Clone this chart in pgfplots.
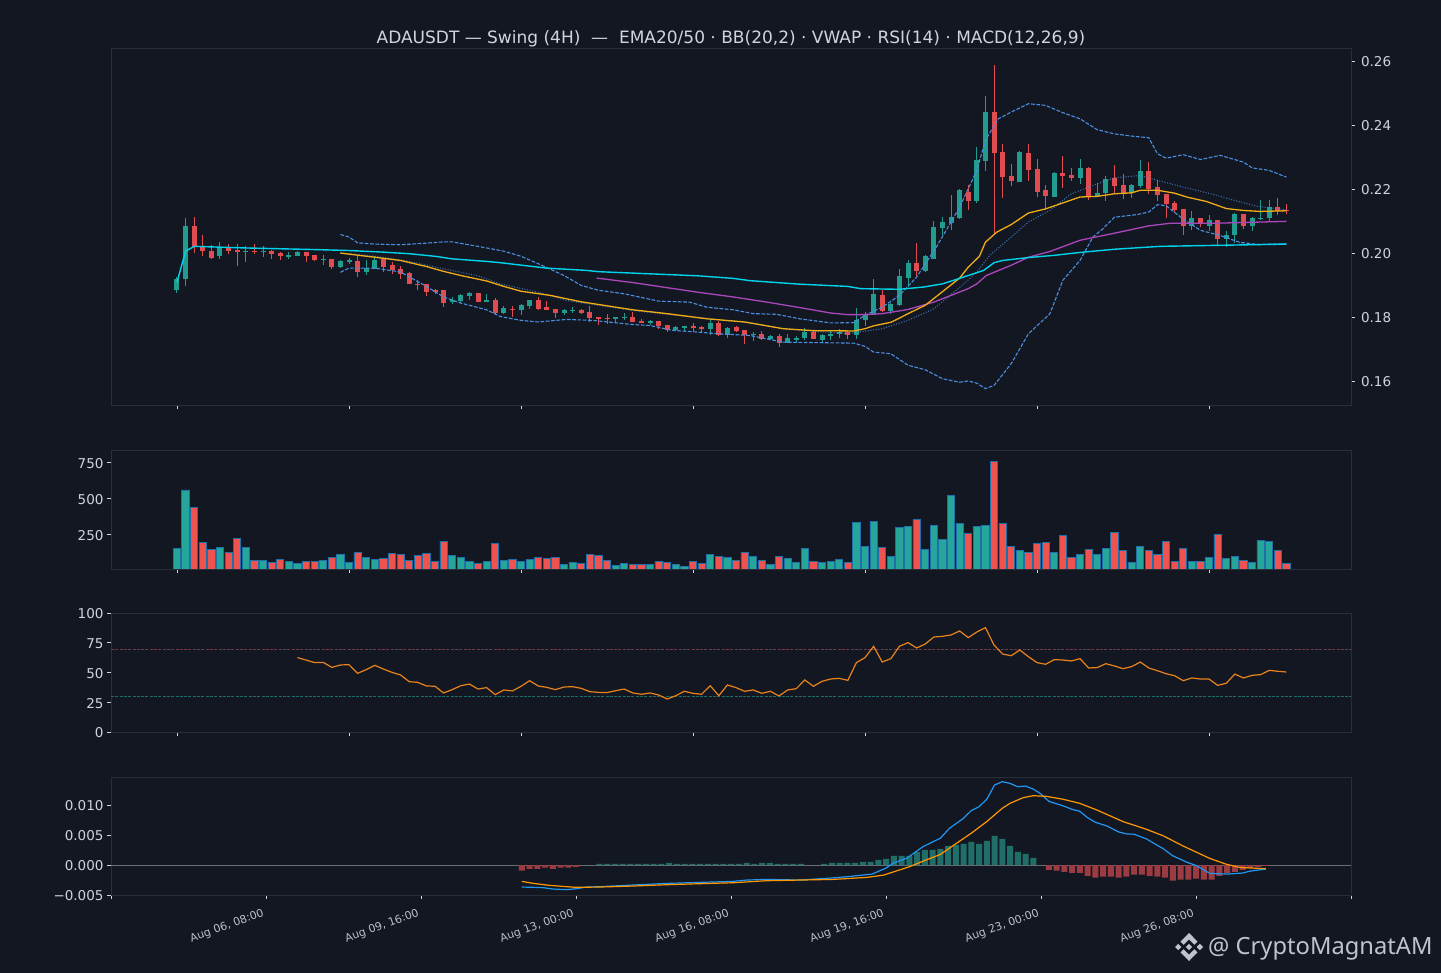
\documentclass[border=0pt]{standalone}
\usepackage{fontspec}
\setmainfont{DejaVu Sans}
\newfontfamily\wm{Noto Sans}
\usepackage{pgfplots}
\usepackage{pgfplotstable}
\pgfplotsset{compat=1.18}
\definecolor{bg}{HTML}{131722}
\definecolor{frame}{HTML}{2A2E39}
\definecolor{txt}{HTML}{D1D4DC}
\definecolor{upc}{HTML}{229C8E}
\definecolor{dnc}{HTML}{E04C4F}
\definecolor{upv}{HTML}{26A69A}
\definecolor{dnv}{HTML}{EF5350}
\definecolor{edg}{HTML}{1F6FA8}
\definecolor{cyanl}{HTML}{00D4EC}
\definecolor{emaf}{HTML}{F0AC14}
\definecolor{emas}{HTML}{AB47BC}
\definecolor{bb}{HTML}{4A90E2}
\definecolor{rsil}{HTML}{E8831C}
\definecolor{macdl}{HTML}{2196F3}
\definecolor{sigl}{HTML}{FF9800}
\definecolor{hup}{HTML}{1F6F68}
\definecolor{hdn}{HTML}{9C3B42}
\definecolor{ob}{HTML}{6E3C48}
\definecolor{os}{HTML}{1B6E68}
\pgfplotstableread{
i o h l c
0 .1885 .1926 .1876 .1921
1 .1919 .2111 .1898 .2087
5 .1991 .2036 .1982 .2017
8 .2003 .2024 .1973 .2009
10 .2003 .2022 .1989 .2007
13 .1988 .2004 .1982 .1994
14 .1991 .2007 .1991 .2003
17 .1979 .1996 .1965 .1984
19 .1959 .1980 .1954 .1975
20 .1972 .1986 .1968 .1978
22 .1941 .1978 .1932 .1955
23 .1952 .1992 .1952 .1978
32 .1849 .1865 .1842 .1856
33 .1852 .1874 .1845 .1869
34 .1866 .1881 .1855 .1875
36 .1847 .1874 .1847 .1856
38 .1813 .1837 .1810 .1829
40 .1822 .1841 .1809 .1838
41 .1835 .1856 .1826 .1856
45 .1813 .1825 .1807 .1822
46 .1819 .1832 .1814 .1822
51 .1794 .1800 .1782 .1800
52 .1797 .1815 .1792 .1803
55 .1782 .1791 .1778 .1788
58 .1760 .1772 .1760 .1769
59 .1766 .1775 .1757 .1775
62 .1763 .1791 .1745 .1782
64 .1745 .1770 .1736 .1768
67 .1744 .1754 .1726 .1750
69 .1732 .1744 .1729 .1741
71 .1720 .1747 .1720 .1735
72 .1729 .1741 .1722 .1735
73 .1735 .1768 .1729 .1754
75 .1729 .1747 .1720 .1744
76 .1741 .1757 .1729 .1750
77 .1747 .1763 .1736 .1754
79 .1744 .1830 .1734 .1793
80 .1791 .1817 .1774 .1807
81 .1809 .1921 .1809 .1872
83 .1819 .1845 .1812 .1841
84 .1838 .1952 .1835 .1928
85 .1924 .1980 .1895 .1969
87 .1944 .1994 .1942 .1991
88 .1984 .2101 .1984 .2081
89 .2078 .2113 .2058 .2097
90 .2094 .2181 .2073 .2115
91 .2112 .2202 .2107 .2197
93 .2165 .2333 .2157 .2290
94 .2287 .2490 .2258 .2440
98 .2222 .2321 .2222 .2315
102 .2175 .2253 .2175 .2250
105 .2234 .2295 .2217 .2268
107 .2178 .2219 .2178 .2190
108 .2187 .2243 .2163 .2231
111 .2190 .2217 .2172 .2212
112 .2209 .2290 .2203 .2256
118 .2087 .2131 .2072 .2112
120 .2087 .2119 .2069 .2103
122 .2044 .2069 .2019 .2056
123 .2056 .2125 .2034 .2122
125 .2087 .2115 .2069 .2109
126 .2106 .2167 .2103 .2112
127 .2109 .2167 .2097 .2144
}\upT
\pgfplotstableread{
i o h l c
2 .2087 .2115 .2001 .2020
3 .2020 .2056 .1992 .2006
4 .2009 .2027 .1985 .1986
6 .2017 .2030 .1998 .2009
7 .2012 .2030 .1960 .2003
9 .2007 .2030 .1997 .2004
11 .2007 .2011 .1984 .1997
12 .2000 .2004 .1979 .1992
15 .2003 .2004 .1973 .1991
16 .1994 .1994 .1975 .1978
18 .1984 .1984 .1951 .1959
21 .1975 .1994 .1926 .1941
24 .1981 .1986 .1942 .1959
25 .1963 .1972 .1937 .1947
26 .1950 .1962 .1921 .1936
27 .1938 .1942 .1903 .1903
28 .1906 .1916 .1885 .1900
29 .1903 .1905 .1867 .1881
30 .1887 .1890 .1872 .1881
31 .1885 .1885 .1833 .1844
35 .1875 .1877 .1847 .1847
37 .1856 .1862 .1810 .1813
39 .1828 .1835 .1801 .1822
42 .1856 .1864 .1825 .1828
43 .1832 .1853 .1822 .1822
44 .1825 .1825 .1798 .1813
47 .1822 .1825 .1811 .1813
48 .1816 .1835 .1786 .1797
49 .1800 .1803 .1776 .1794
50 .1797 .1810 .1780 .1794
53 .1803 .1816 .1785 .1785
54 .1788 .1794 .1782 .1782
56 .1788 .1788 .1764 .1775
57 .1778 .1778 .1755 .1760
60 .1775 .1782 .1754 .1766
61 .1769 .1772 .1754 .1763
63 .1782 .1788 .1741 .1744
65 .1769 .1774 .1755 .1757
66 .1760 .1760 .1716 .1744
68 .1750 .1757 .1732 .1733
70 .1741 .1747 .1708 .1720
74 .1754 .1760 .1732 .1732
78 .1754 .1760 .1734 .1744
82 .1869 .1885 .1817 .1819
86 .1969 .2034 .1929 .1944
92 .2193 .2212 .2134 .2162
95 .2440 .2587 .2061 .2312
96 .2315 .2340 .2173 .2237
97 .2240 .2280 .2210 .2225
99 .2312 .2342 .2226 .2259
100 .2262 .2295 .2176 .2193
101 .2197 .2212 .2137 .2178
103 .2250 .2305 .2204 .2243
104 .2246 .2268 .2226 .2234
106 .2268 .2271 .2166 .2178
109 .2234 .2275 .2188 .2209
110 .2212 .2249 .2170 .2187
113 .2256 .2284 .2184 .2202
114 .2206 .2228 .2165 .2181
115 .2184 .2184 .2110 .2153
116 .2156 .2162 .2125 .2137
117 .2140 .2140 .2056 .2087
119 .2112 .2112 .2082 .2094
121 .2103 .2103 .2025 .2044
124 .2122 .2122 .2075 .2087
128 .2144 .2174 .2119 .2131
129 .2137 .2153 .2122 .2131
}\dnT
\pgfplotsset{
 panel/.style={
  scale only axis,anchor=south west,width=1240pt,
  axis line style={draw=frame,line width=0.8pt},
  axis on top=false,
  tick style={draw=txt,line width=0.7pt},
  major tick length=4pt,
  tick align=outside,
  xtick pos=bottom,
  ticklabel style={text=txt,font=\fontsize{13.5}{15}\selectfont},
  scaled y ticks=false,
  xmin=-7.674,xmax=136.51,
  xtick={0,20,...,120},xticklabels={},
 },
 wick/.style={draw=none,mark=none,forget plot,error bars/.cd,y dir=both,y explicit,error mark=none,error bar style={solid,draw=#1,line width=1pt}},
 bup/.style={draw=none,mark=none,forget plot,error bars/.cd,y dir=minus,y explicit,error mark=none,error bar style={solid,draw=upc,line width=5pt}},
 bdn/.style={draw=none,mark=none,forget plot,error bars/.cd,y dir=plus,y explicit,error mark=none,error bar style={solid,draw=dnc,line width=5pt}},
}
\begin{document}
\begin{tikzpicture}[x=1pt,y=1pt]
\fill[bg] (0,0) rectangle (1441,973);
\path[use as bounding box] (0,0) rectangle (1441,973);
\node[text=txt,font=\fontsize{17}{20}\selectfont,anchor=center] at (731,933.7) {ADAUSDT — Swing (4H)~~—~~EMA20/50 · BB(20,2) · VWAP · RSI(14) · MACD(12,26,9)};
% ---------- price
\begin{axis}[panel,at={(111pt,568pt)},height=357pt,
 ymin=0.1527,ymax=0.2641,ytick pos=right,
 y tick label style={xshift=2.5pt},
 ytick={0.16,0.18,0.20,0.22,0.24,0.26},yticklabels={0.16,0.18,0.20,0.22,0.24,0.26}]
\addplot[wick=upc] table[x=i,y=c,y error plus expr=\thisrow{h}-\thisrow{c},y error minus expr=\thisrow{c}-\thisrow{l}] {\upT};
\addplot[wick=dnc] table[x=i,y=c,y error plus expr=\thisrow{h}-\thisrow{c},y error minus expr=\thisrow{c}-\thisrow{l}] {\dnT};
\addplot[bup] table[x=i,y=c,y error minus expr=\thisrow{c}-\thisrow{o}] {\upT};
\addplot[bdn] table[x=i,y=c,y error plus expr=\thisrow{o}-\thisrow{c}] {\dnT};
% BB upper
\addplot[bb,line width=1.1pt,dash pattern=on 3.7pt off 1.6pt,no markers] coordinates {(19,.2059)(20,.2051)(21,.2033)(23,.2029)(26,.2027)(29,.2032)(31,.2036)(32,.2036)(35,.2022)(38,.2007)(40,.1991)(42,.1968)(45,.1931)(47,.1900)(49,.1885)(52,.1874)(56,.1851)(59.6,.1848)(61.6,.1832)(64.7,.1824)(67,.1812)(69.7,.1810)(72.4,.1796)(76,.1783)(78.7,.1784)(80,.1807)(82,.1832)(84,.1869)(86,.1926)(88.3,.2020)(91,.2144)(93,.2259)(94,.2353)(95.5,.2420)(97,.2441)(99,.2467)(101,.2462)(103,.2439)(105,.2420)(107,.2386)(109,.2373)(111,.2366)(113,.2361)(114,.2311)(115,.2297)(117,.2308)(119,.2293)(121.3,.2306)(124,.2285)(125,.2267)(127,.2259)(129,.2238)};
% BB mid
\addplot[bb,opacity=.75,line width=1.1pt,dash pattern=on 1pt off 1.65pt,no markers] coordinates {(19,.2002)(23,.1991)(27,.1975)(31,.1952)(35,.1930)(37.6,.1905)(42,.1879)(45.3,.1853)(49,.1838)(53,.1822)(57,.1810)(62,.1796)(66.6,.1784)(70.5,.1765)(74,.1757)(78,.1750)(82,.1765)(85,.1791)(88,.1827)(91.5,.1905)(93,.1942)(94.5,.1994)(97,.2051)(99,.2098)(101.5,.2134)(104,.2186)(107,.2217)(109,.2236)(112,.2243)(114,.2228)(116.7,.2209)(120.5,.2184)(123,.2165)(125.6,.2147)(129,.2136)};
% BB lower
\addplot[bb,line width=1.1pt,dash pattern=on 3.7pt off 1.6pt,no markers] coordinates {(19,.1941)(20,.1954)(23,.1954)(26,.1942)(29,.1897)(31,.1864)(33,.1845)(36,.1824)(37.6,.1803)(40,.1791)(42,.1786)(45.3,.1794)(48.3,.1791)(53,.1778)(55,.1775)(57.6,.1760)(60.8,.1754)(63,.1749)(66.6,.1744)(70.5,.1723)(78.7,.1720)(80,.1710)(81,.1692)(83,.1687)(85,.1651)(87,.1637)(89,.1609)(91,.1598)(92,.1602)(93,.1595)(94,.1578)(95,.1588)(97,.1656)(99,.1749)(101.5,.1812)(103,.1916)(105,.1978)(106.5,.2051)(107.7,.2078)(109,.2113)(111.6,.2121)(113,.2129)(114,.2152)(115,.2149)(117,.2107)(119,.2072)(121.3,.2056)(123.5,.2035)(125.6,.2028)(129,.2030)};
% EMA50
\addplot[emas,line width=1.3pt,no markers] coordinates {(48.8,.1923)(53,.1909)(57,.1893)(60.8,.1878)(64.7,.1864)(68.6,.1848)(72.4,.1831)(76,.1814)(78,.1809)(80,.1809)(82,.1812)(85,.1825)(88,.1848)(92,.1890)(93,.1905)(94.1,.1931)(97,.1963)(99,.1988)(101.5,.2006)(105,.2041)(109,.2063)(113,.2086)(115.5,.2094)(120.5,.2094)(129,.2100)};
% EMA20
\addplot[emaf,line width=1.3pt,no markers] coordinates {(19,.2001)(23,.1988)(26,.1978)(29,.1959)(31,.1944)(33,.1931)(36,.1914)(38,.1897)(40,.1882)(43.4,.1869)(47,.1849)(53,.1824)(57,.1812)(61.6,.1796)(66,.1786)(70.5,.1765)(74,.1759)(78.7,.1758)(80,.1765)(81,.1774)(83,.1785)(84,.1798)(85,.1812)(87,.1838)(91,.1923)(92,.1957)(93.3,.1991)(94,.2035)(95.3,.2066)(97,.2090)(99,.2126)(101,.2139)(105,.2176)(107,.2178)(109,.2186)(111,.2189)(112,.2197)(114,.2197)(116,.2188)(117.4,.2176)(119.7,.2162)(122,.2140)(124,.2134)(126,.2131)(129,.2133)};
% VWAP
\addplot[cyanl,line width=1.4pt,no markers] coordinates {(0,.1910)(1,.2007)(2,.2022)(8,.2017)(16,.2012)(20,.2009)(24,.2004)(27,.1999)(30,.1991)(32,.1983)(36,.1975)(37.6,.1971)(43,.1954)(47.6,.1947)(49,.1943)(60.6,.1930)(64.7,.1922)(66.6,.1915)(72.4,.1904)(78,.1897)(79.5,.1890)(84,.1888)(86.8,.1895)(89,.1905)(90.3,.1916)(93.8,.1947)(95,.1971)(96,.1978)(99,.1987)(102,.1994)(105,.2003)(109,.2013)(114.3,.2022)(129,.2029)};
\end{axis}
% ---------- volume
\begin{axis}[panel,at={(111pt,404pt)},height=119pt,ymin=10,ymax=837,ytick pos=left,
 y tick label style={yshift=-1pt},
 ytick={250,500,750},yticklabels={250,500,750}]
\addplot[ybar,bar width=7.3pt,bar shift=0pt,fill=upv,draw=edg,line width=.9pt] coordinates {(0,154)(1,559)(5,160)(8,160)(10,70)(13,63)(14,49)(17,70)(19,112)(20,56)(22,91)(23,77)(32,105)(33,91)(34,63)(36,63)(38,70)(40,63)(41,77)(45,42)(46,56)(51,35)(52,49)(55,42)(58,42)(59,29)(62,112)(64,91)(67,98)(69,42)(71,84)(72,56)(73,154)(75,56)(76,63)(77,77)(79,334)(80,167)(81,341)(83,98)(84,299)(85,306)(87,147)(88,313)(89,216)(90,522)(91,327)(93,306)(94,313)(98,140)(102,126)(105,112)(107,112)(108,154)(111,56)(112,167)(118,63)(120,91)(122,84)(123,98)(125,56)(126,209)(127,202)};
\addplot[ybar,bar width=7.3pt,bar shift=0pt,fill=dnv,draw=edg,line width=.9pt] coordinates {(2,438)(3,195)(4,147)(6,126)(7,223)(9,70)(11,56)(12,77)(15,63)(16,63)(18,91)(21,126)(24,84)(25,119)(26,112)(27,70)(28,105)(29,119)(30,63)(31,202)(35,49)(37,188)(39,77)(42,91)(43,84)(44,91)(47,49)(48,112)(49,105)(50,70)(53,42)(54,42)(56,63)(57,56)(60,63)(61,49)(63,98)(65,70)(66,126)(68,70)(70,98)(74,63)(78,56)(82,160)(86,355)(92,258)(95,758)(96,327)(97,167)(99,126)(100,188)(101,195)(103,244)(104,91)(106,147)(109,265)(110,140)(113,140)(114,112)(115,202)(116,63)(117,154)(119,63)(121,251)(124,70)(128,140)(129,49)};
\end{axis}
% ---------- RSI
\begin{axis}[panel,at={(111pt,241pt)},height=119pt,ymin=0,ymax=100,ytick pos=left,
 y tick label style={yshift=-1pt},
 ytick={0,25,50,75,100},yticklabels={0,25,50,75,100}]
\addplot[ob,line width=.8pt,dash pattern=on 3pt off 1.3pt,no markers] coordinates {(-7.674,69.6)(136.51,69.6)};
\addplot[os,line width=.8pt,dash pattern=on 3pt off 1.3pt,no markers] coordinates {(-7.674,30)(136.51,30)};
\addplot[rsil,line width=1.2pt,no markers] coordinates {(14,62.5)(15,60.5)(16,58.3)(17,58.5)(18,54.3)(19,56.3)(20,56.6)(21,49.3)(22,52.4)(23,56)(24,52.9)(25,50.1)(26,47.9)(27,42.3)(28,41.7)(29,38.7)(30,38.4)(31,32.8)(32,35.6)(33,38.9)(34,40.3)(35,36.1)(36,37.3)(37,31.4)(38,35.3)(39,34.5)(40,38.4)(41,43.1)(42,38.7)(43,37.5)(44,35.6)(45,37.8)(46,38.1)(47,36.7)(48,33.9)(49,33.3)(50,33.1)(51,34.7)(52,36.1)(53,32.8)(54,31.7)(55,32.8)(56,31.1)(57,27.7)(58,30.5)(59,34.2)(60,32.5)(61,31.7)(62,38.9)(63,30.5)(64,39.5)(65,37.3)(66,34.2)(67,35.3)(68,32.5)(69,34.2)(70,30.3)(71,35.3)(72,36.4)(73,43.7)(74,38.4)(75,42.6)(76,44.5)(77,45.1)(78,43.4)(79,58.3)(80,62.5)(81,72)(82,58.8)(83,61.6)(84,72)(85,75.1)(86,70.6)(87,73.9)(88,79.8)(89,80.4)(90,81.5)(91,84.9)(92,79.3)(93,84)(94,87.7)(95,73.1)(96,65.5)(97,64.1)(98,68.9)(99,63.3)(100,58.3)(101,56.9)(102,60.8)(103,60.5)(104,59.7)(105,61.6)(106,53.8)(107,54.1)(108,57.4)(109,55.5)(110,53.2)(111,54.9)(112,58.8)(113,53.8)(114,51.5)(115,49)(116,47.3)(117,43.1)(118,45.4)(119,44.5)(120,44.5)(121,39.2)(122,40.9)(123,48.7)(124,45.4)(125,47.6)(126,48.2)(127,51.8)(128,51)(129,50.4)};
\end{axis}
% ---------- MACD
\begin{axis}[panel,at={(111pt,78pt)},height=118pt,ymin=-0.005,ymax=0.01475,ytick pos=left,
 xmin=0,xmax=160,xtick={0,20,...,160},
 xticklabels={{},{Aug 06, 08:00},{Aug 09, 16:00},{Aug 13, 00:00},{Aug 16, 08:00},{Aug 19, 16:00},{Aug 23, 00:00},{Aug 26, 08:00},{}},
 x tick label style={rotate=20,anchor=north east,xshift=-3.5pt,yshift=-3.5pt,font=\fontsize{11}{13}\selectfont,text=txt!90!black},
 y tick label style={yshift=-.5pt},
 ytick={-0.005,0,0.005,0.01},yticklabels={−0.005,0.000,0.005,0.010}]
\addplot[frame!70!white,line width=.9pt,no markers] coordinates {(0,0)(160,0)};
\addplot[ybar,bar width=6pt,bar shift=0pt,fill=hup,draw=none] coordinates {(63,.00022)(64,.00022)(65,.00022)(66,.00022)(67,.00022)(68,.00022)(69,.00022)(70,.00022)(71,.00022)(72,.00039)(73,.00022)(74,.00022)(75,.00022)(76,.00022)(77,.00022)(78,.00022)(79,.00022)(80,.00022)(81,.00022)(82,.00039)(83,.00022)(84,.00039)(85,.00039)(86,.00022)(87,.00022)(88,.00022)(89,.00022)(92,.00022)(93,.00039)(94,.00039)(95,.00039)(96,.00039)(97,.00056)(98,.00056)(99,.00089)(100,.00106)(101,.00156)(102,.00156)(103,.00156)(104,.00217)(105,.00256)(106,.00256)(107,.00272)(108,.00322)(109,.00339)(110,.00356)(111,.00389)(112,.00356)(113,.00406)(114,.00489)(115,.00439)(116,.00322)(117,.00222)(118,.00189)(119,.00122)};
\addplot[ybar,bar width=6pt,bar shift=0pt,fill=hdn,draw=none] coordinates {(53,-.00094)(54,-.00061)(55,-.00061)(56,-.00044)(57,-.00061)(58,-.00044)(59,-.00044)(60,-.00028)(121,-.00078)(122,-.00094)(123,-.00111)(124,-.00128)(125,-.00128)(126,-.00178)(127,-.00211)(128,-.00194)(129,-.00194)(130,-.00211)(131,-.00194)(132,-.00161)(133,-.00161)(134,-.00178)(135,-.00194)(136,-.00211)(137,-.00261)(138,-.00244)(139,-.00244)(140,-.00228)(141,-.00244)(142,-.00244)(143,-.00178)(144,-.00133)(145,-.00111)(146,-.00078)(147,-.00050)(148,-.00028)(149,-.00011)};
\addplot[macdl,line width=1.2pt,no markers] coordinates {(53,-.00367)(54.5,-.00372)(55.8,-.00378)(57,-.00400)(58.8,-.00411)(60,-.00395)(61.4,-.00367)(63,-.00361)(67.4,-.00333)(71.7,-.00306)(76,-.00289)(80.3,-.00272)(82,-.00250)(84.6,-.00239)(88.9,-.00250)(92.8,-.00217)(95.4,-.00189)(98.2,-.00150)(100,-.00050)(100.9,.00030)(102.7,.00117)(104.8,.00311)(107,.00450)(108.2,.00617)(110,.00784)(111,.00912)(112,.00978)(113,.01101)(114,.01340)(115,.01396)(116,.01368)(117,.01312)(118,.01323)(119,.01273)(120,.01190)(121,.01068)(122.9,.00990)(124,.00934)(125,.00901)(126,.00795)(127,.00717)(128.5,.00656)(130,.00556)(131,.00523)(132,.00517)(133.6,.00439)(135.8,.00272)(137,.00156)(138.8,.00050)(140,-.00006)(141.8,-.00139)(144,-.00150)(146,-.00133)(147,-.00100)(149,-.00067)};
\addplot[sigl,line width=1.2pt,no markers] coordinates {(53,-.00272)(54.5,-.00306)(56.6,-.00339)(58.8,-.00361)(60,-.00372)(63,-.00367)(67.4,-.00350)(71.7,-.00328)(76,-.00311)(80.3,-.00295)(84.6,-.00261)(88.9,-.00250)(93.2,-.00239)(97.5,-.00206)(99.7,-.00167)(100.5,-.00133)(103,-.00028)(104.8,.00067)(107,.00178)(109,.00356)(111,.00534)(113,.00728)(115,.00951)(116,.01034)(117.7,.01129)(119,.01162)(120.7,.01151)(122.9,.01101)(125,.01034)(127.2,.00923)(130.6,.00728)(133.6,.00600)(135.8,.00489)(138.3,.00322)(141.8,.00111)(144,.00011)(145.7,-.00039)(149,-.00061)};
\end{axis}
% ---------- watermark
\begin{scope}[shift={(1175,12)},x=.875pt,y=.875pt,fill=txt!92!black]
\fill (9.8,18.55)--(16,24.75)--(22.2,18.55)--(25.8,22.15)--(16,32)--(6.2,22.15)--cycle;
\fill (9.8,13.45)--(16,7.25)--(22.2,13.45)--(25.8,9.85)--(16,0)--(6.2,9.85)--cycle;
\fill (0,16)--(3.6,12.4)--(7.2,16)--(3.6,19.6)--cycle;
\fill (12.4,16)--(16,12.4)--(19.6,16)--(16,19.6)--cycle;
\fill (24.8,16)--(28.4,12.4)--(32,16)--(28.4,19.6)--cycle;
\end{scope}
\node[text=txt!92!black,font=\wm\fontsize{23.7}{26}\selectfont,anchor=base west,inner sep=0pt] at (1208,18) {@ CryptoMagnatAM};
\end{tikzpicture}
\end{document}
